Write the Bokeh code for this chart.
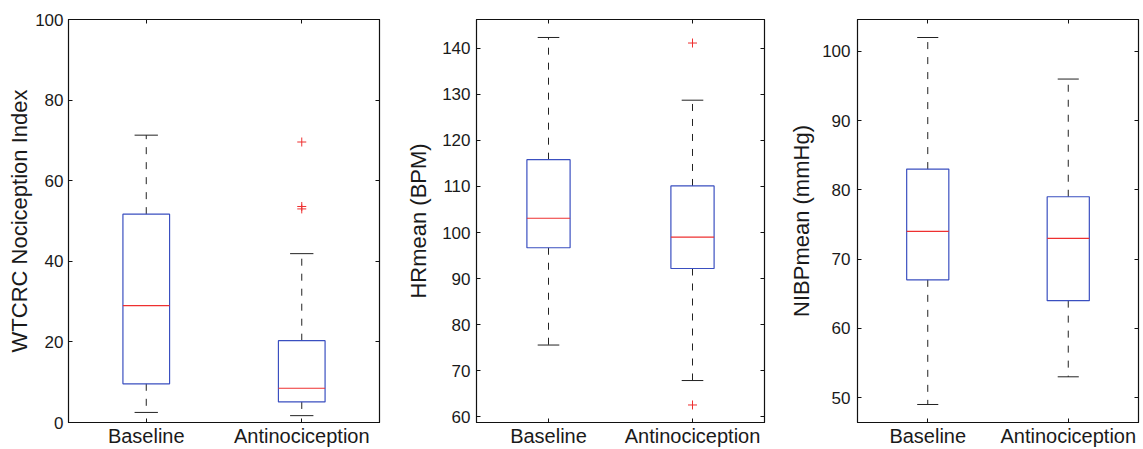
from bokeh.plotting import figure
from bokeh.layouts import row
from bokeh.models import LinearAxis, FixedTicker, Range1d, ColumnDataSource, CustomJSTickFormatter
from bokeh.embed import file_html
from bokeh.resources import INLINE

categories = ["Baseline", "Antinociception"]

# Panel 1: WTCRC Nociception Index
wtcrc_lower = [2.5, 1.7]
wtcrc_q1 = [9.6, 5.1]
wtcrc_median = [29.0, 8.5]
wtcrc_q3 = [51.7, 20.3]
wtcrc_upper = [71.3, 41.9]
wtcrc_outliers = [[], [69.6, 53.6, 53.0]]

# Panel 2: HRmean (BPM)
hr_lower = [75.6, 67.9]
hr_q1 = [96.7, 92.2]
hr_median = [103.1, 99.0]
hr_q3 = [115.8, 110.1]
hr_upper = [142.3, 128.7]
hr_outliers = [[], [141.1, 62.6]]

# Panel 3: NIBPmean (mmHg)
nibp_lower = [49.0, 53.0]
nibp_q1 = [67.0, 64.0]
nibp_median = [74.0, 73.0]
nibp_q3 = [83.0, 79.0]
nibp_upper = [102.0, 96.0]
nibp_outliers = [[], []]

wtcrc_ticks = [0, 20, 40, 60, 80, 100]
hr_ticks = [60, 70, 80, 90, 100, 110, 120, 130, 140]
nibp_ticks = [50, 60, 70, 80, 90, 100]

FONT = "Liberation Sans"
BLUE = "#3a4fc0"
RED = "#ee3030"
BOX_W = 0.3
CAP_W = 0.15


def panel(ylabel, lower, q1, med, q3, upper, outliers, yticks, yrange,
          width, border_left, border_right, tick_standoff, label_standoff):
    pos = [i + 1 for i in range(len(categories))]
    p = figure(width=width, height=449, output_backend="svg", toolbar_location=None,
               x_range=Range1d(0.5, 2.5), y_range=Range1d(*yrange),
               min_border_left=border_left, min_border_right=border_right,
               min_border_top=19, min_border_bottom=27)
    p.xgrid.visible = False
    p.ygrid.visible = False
    p.outline_line_color = "#111111"
    p.outline_line_width = 1.2
    p.background_fill_color = "white"
    p.border_fill_color = "white"

    src = ColumnDataSource(dict(
        x=pos, lo=lower, q1=q1, med=med, q3=q3, up=upper,
        left=[x - BOX_W / 2 for x in pos], right=[x + BOX_W / 2 for x in pos],
        cl=[x - CAP_W / 2 for x in pos], cr=[x + CAP_W / 2 for x in pos],
    ))
    # whiskers
    p.segment(x0="x", y0="q3", x1="x", y1="up", source=src, line_color="#222222",
              line_width=1, line_dash="7 8")
    p.segment(x0="x", y0="q1", x1="x", y1="lo", source=src, line_color="#222222",
              line_width=1, line_dash="7 8")
    # caps
    p.segment(x0="cl", y0="up", x1="cr", y1="up", source=src, line_color="#222222", line_width=1)
    p.segment(x0="cl", y0="lo", x1="cr", y1="lo", source=src, line_color="#222222", line_width=1)
    # boxes
    p.quad(left="left", right="right", bottom="q1", top="q3", source=src,
           fill_color=None, line_color=BLUE, line_width=1.2)
    # medians
    p.segment(x0="left", y0="med", x1="right", y1="med", source=src, line_color=RED, line_width=1.2)
    # outliers
    ox, oy = [], []
    for x, vals in zip(pos, outliers):
        for v in vals:
            ox.append(x)
            oy.append(v)
    if ox:
        p.scatter(ox, oy, marker="cross", size=9, line_color=RED, line_width=1)

    # axes styling
    p.xaxis.ticker = FixedTicker(ticks=pos)
    p.xaxis.major_label_overrides = {x: c for x, c in zip(pos, categories)}
    p.yaxis.ticker = FixedTicker(ticks=yticks)
    for ax in (p.xaxis[0], p.yaxis[0]):
        ax.major_tick_in = 4
        ax.major_tick_out = 0
        ax.minor_tick_line_color = None
        ax.axis_line_color = "#111111"
        ax.major_tick_line_color = "#111111"
        ax.major_label_text_font = FONT
        ax.major_label_text_color = "#1a1a1a"
    p.xaxis.major_label_text_font_size = "20px"
    p.xaxis.major_label_standoff = 2
    p.yaxis.major_label_text_font_size = "17px"
    p.yaxis.major_label_standoff = tick_standoff
    p.yaxis.axis_label = ylabel
    p.yaxis.axis_label_text_font = FONT
    p.yaxis.axis_label_text_font_size = "22px"
    p.yaxis.axis_label_text_font_style = "normal"
    p.yaxis.axis_label_text_color = "#1a1a1a"
    p.yaxis.axis_label_standoff = label_standoff

    # mirrored tick marks on right and top (no labels)
    blank = CustomJSTickFormatter(code="return ''")
    ra = LinearAxis(ticker=FixedTicker(ticks=yticks), formatter=blank,
                    major_tick_in=4, major_tick_out=0,
                    minor_tick_line_color=None, major_label_standoff=0,
                    major_label_text_font_size="8px",
                    axis_line_color="#111111", major_tick_line_color="#111111")
    p.add_layout(ra, "right")
    ta = LinearAxis(ticker=FixedTicker(ticks=pos), formatter=blank,
                    major_tick_in=4, major_tick_out=0,
                    minor_tick_line_color=None, major_label_standoff=0,
                    major_label_text_font_size="8px",
                    axis_line_color="#111111", major_tick_line_color="#111111")
    p.add_layout(ta, "above")
    return p


p1 = panel("WTCRC Nociception Index", wtcrc_lower, wtcrc_q1, wtcrc_median, wtcrc_q3,
           wtcrc_upper, wtcrc_outliers, wtcrc_ticks, (0, 100), 387, 68, 8, 5, 0)
p2 = panel("HRmean (BPM)", hr_lower, hr_q1, hr_median, hr_q3, hr_upper, hr_outliers,
           hr_ticks, (58.8, 146.2), 385, 89, 8, 6, 8)
p3 = panel("NIBPmean (mmHg)", nibp_lower, nibp_q1, nibp_median, nibp_q3, nibp_upper,
           nibp_outliers, nibp_ticks, (46.4, 104.6), 370, 85, 4, 7, 5)

layout = row(p1, p2, p3)
open("out.html", "w").write(file_html(layout, INLINE))
